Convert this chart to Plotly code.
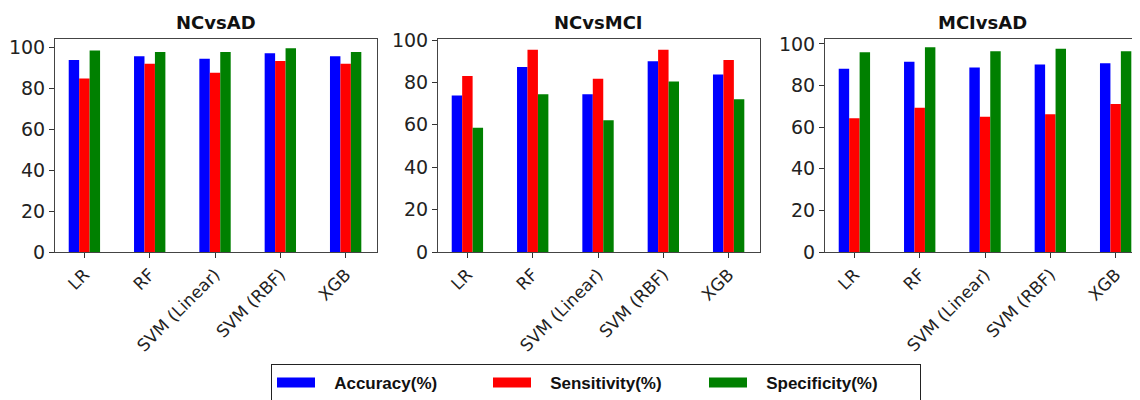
import plotly.graph_objects as go

models = ["LR", "RF", "SVM (Linear)", "SVM (RBF)", "XGB"]
panels = ["NCvsAD", "NCvsMCI", "MCIvsAD"]
metrics = ["Accuracy(%)", "Sensitivity(%)", "Specificity(%)"]

ncad_acc = [93.8, 95.6, 94.3, 97.1, 95.6]
ncad_sen = [84.7, 91.9, 87.5, 93.2, 91.9]
ncad_spe = [98.4, 97.6, 97.6, 99.5, 97.6]

ncmci_acc = [73.8, 87.3, 74.4, 90.0, 83.7]
ncmci_sen = [83.0, 95.4, 81.8, 95.4, 90.6]
ncmci_spe = [58.6, 74.4, 62.2, 80.5, 72.1]

mciad_acc = [88.1, 91.5, 88.7, 90.2, 90.8]
mciad_sen = [64.3, 69.3, 65.0, 66.2, 71.2]
mciad_spe = [96.0, 98.4, 96.5, 97.7, 96.5]

data = [
    [ncad_acc, ncad_sen, ncad_spe],
    [ncmci_acc, ncmci_sen, ncmci_spe],
    [mciad_acc, mciad_sen, mciad_spe],
]
colors = ["#0000ff", "#ff0000", "#008000"]

W, H = 1140, 400
OFF = 8  # page body margin
xdoms = [(55, 377), (438, 760), (825, 1147)]
yranges = [[0, 104], [0, 100.5], [0, 102.4]]
ytop, ybot = 39, 252


def fx(px):
    return min(1.0, max(0.0, (px - OFF) / W))


def fy(py):
    return min(1.0, max(0.0, 1 - (py - OFF) / H))


fig = go.Figure()
for p in range(3):
    ax = "" if p == 0 else str(p + 1)
    for m in range(3):
        fig.add_trace(go.Bar(
            x=list(range(len(models))), y=data[p][m], name=metrics[m],
            marker=dict(color=colors[m], line=dict(width=0)),
            xaxis="x" + ax, yaxis="y" + ax,
            legendgroup=metrics[m], showlegend=False,
        ))
    xa = dict(
        domain=[fx(xdoms[p][0]), fx(xdoms[p][1])], anchor="y" + ax,
        range=[-0.45, 4.48], tickmode="array", tickvals=list(range(5)), ticktext=models,
        tickangle=-45, ticks="outside", ticklen=5, tickcolor="#333",
        showline=True, linecolor="#444", linewidth=1, mirror=True,
        showgrid=False, zeroline=False, automargin=False,
        tickfont=dict(family="DejaVu Sans", size=17, color="#222"),
    )
    ya = dict(
        domain=[fy(ybot), fy(ytop)], anchor="x" + ax,
        range=yranges[p], tickvals=[0, 20, 40, 60, 80, 100],
        ticks="outside", ticklen=5, tickcolor="#333",
        showline=True, linecolor="#444", linewidth=1, mirror=True,
        showgrid=False, zeroline=False, automargin=False,
        tickfont=dict(family="DejaVu Sans", size=19, color="#222"),
    )
    fig.layout["xaxis" + ax] = xa
    fig.layout["yaxis" + ax] = ya
    fig.add_annotation(
        x=fx((xdoms[p][0] + min(xdoms[p][1], 1140)) / 2), y=fy(22), xref="paper", yref="paper",
        text="<b>" + panels[p] + "</b>", showarrow=False,
        font=dict(family="DejaVu Sans", size=18, color="#111"),
        xanchor="center", yanchor="middle",
    )

# legend proxies (wide rectangular swatches)
for m in range(3):
    fig.add_trace(go.Scatter(
        x=[None], y=[None], mode="lines", name="\u00a0\u00a0\u00a0" + metrics[m],
        line=dict(color=colors[m], width=14), legendgroup=metrics[m],
        showlegend=True, hoverinfo="skip",
    ))

fig.update_layout(
    width=W, height=H, margin=dict(l=0, r=0, t=0, b=0, autoexpand=False),
    plot_bgcolor="white", paper_bgcolor="white",
    barmode="group", bargap=0.52, bargroupgap=0,
    legend=dict(
        orientation="h", x=fx(596), xanchor="center", y=fy(383), yanchor="middle",
        bordercolor="#222", borderwidth=1, bgcolor="white",
        font=dict(family="Liberation Sans", size=17, color="#111", weight="bold"),
        itemwidth=38, traceorder="normal", entrywidth=163,
    ),
)

fig.write_html("out.html")
